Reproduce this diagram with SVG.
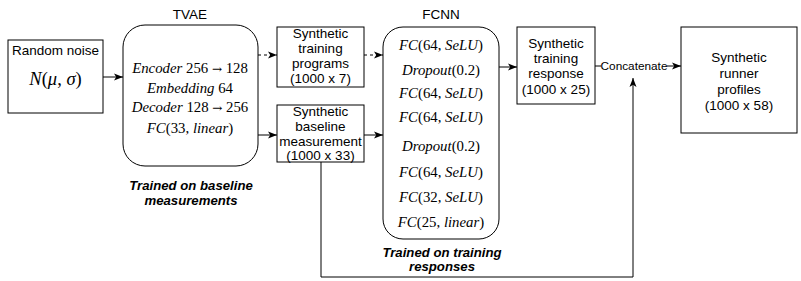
<svg xmlns="http://www.w3.org/2000/svg" width="801" height="281" viewBox="0 0 801 281">
<defs>
<marker id="arr" markerWidth="10" markerHeight="8" refX="9" refY="4" orient="auto" markerUnits="userSpaceOnUse">
<path d="M0,0.5 L9,4 L0,7.5 L2.2,4 Z" fill="#000"/>
</marker>
</defs>
<style>
.box{fill:#fff;stroke:#000;stroke-width:1}
.lbl{font-family:"Liberation Sans",Arial,sans-serif;font-size:13.5px;fill:#000;text-anchor:middle}
.note{font-family:"Liberation Sans",Arial,sans-serif;font-size:13.2px;font-weight:bold;font-style:italic;fill:#000;text-anchor:middle}
.math{font-family:"Liberation Serif","Times New Roman",serif;font-size:14.8px;fill:#000;text-anchor:middle}
.i{font-style:italic}
.ar{font-family:"DejaVu Serif",serif;font-size:12px}
.c{fill:none;stroke:#000;stroke-width:1}
.d{stroke-dasharray:3,3}
</style>
<rect width="801" height="281" fill="#fff"/>

<g id="connectors">
<path class="c" d="M103,77 H123" marker-end="url(#arr)"/>
<path class="c d" d="M258,55 H277" marker-end="url(#arr)"/>
<path class="c" d="M258,135 H277" marker-end="url(#arr)"/>
<path class="c d" d="M364,55 H383" marker-end="url(#arr)"/>
<path class="c" d="M364,135 H383" marker-end="url(#arr)"/>
<path class="c" d="M499,67 H517" marker-end="url(#arr)"/>
<path class="c" d="M595,66 H601"/>
<path class="c" d="M667,66 H681" marker-end="url(#arr)"/>
<path class="c" d="M321,162 V277 H633 V78" marker-end="url(#arr)"/>
<text x="634" y="70" class="lbl" style="font-size:11.8px">Concatenate</text>
</g>

<g id="random-noise">
<rect class="box" x="8" y="40" width="95" height="73"/>
<text x="55.5" y="55" class="lbl">Random noise</text>
<text x="55.5" y="85" class="math" style="font-size:18.5px"><tspan class="i">N</tspan>(<tspan class="i">μ</tspan>, <tspan class="i">σ</tspan>)</text>
</g>

<g id="tvae">
<text x="190" y="19" class="lbl">TVAE</text>
<rect class="box" x="123" y="25" width="135" height="141" rx="22" ry="22"/>
<text x="190" y="73" class="math"><tspan class="i">Encoder</tspan> 256 <tspan class="ar">→</tspan> 128</text>
<text x="190" y="93" class="math"><tspan class="i">Embedding</tspan> 64</text>
<text x="190" y="112" class="math"><tspan class="i">Decoder</tspan> 128 <tspan class="ar">→</tspan> 256</text>
<text x="190" y="133" class="math"><tspan class="i">FC</tspan>(33, <tspan class="i">linear</tspan>)</text>
<text x="191" y="190" class="note">Trained on baseline</text>
<text x="191" y="205" class="note">measurements</text>
</g>

<g id="synthetic-training-programs">
<rect class="box" x="277" y="27" width="87" height="60"/>
<text x="320.5" y="38" class="lbl">Synthetic</text>
<text x="320.5" y="53" class="lbl">training</text>
<text x="320.5" y="68" class="lbl">programs</text>
<text x="320.5" y="83" class="lbl">(1000 x 7)</text>
</g>

<g id="synthetic-baseline-measurement">
<rect class="box" x="277" y="105" width="87" height="57"/>
<text x="320.5" y="116" class="lbl">Synthetic</text>
<text x="320.5" y="131" class="lbl">baseline</text>
<text x="320.5" y="146" class="lbl">measurement</text>
<text x="320.5" y="160" class="lbl">(1000 x 33)</text>
</g>

<g id="fcnn">
<text x="441" y="19" class="lbl">FCNN</text>
<rect class="box" x="383" y="27" width="116" height="212" rx="20" ry="20"/>
<text x="441" y="50" class="math"><tspan class="i">FC</tspan>(64, <tspan class="i">SeLU</tspan>)</text>
<text x="441" y="75" class="math"><tspan class="i">Dropout</tspan>(0.2)</text>
<text x="441" y="98" class="math"><tspan class="i">FC</tspan>(64, <tspan class="i">SeLU</tspan>)</text>
<text x="441" y="122" class="math"><tspan class="i">FC</tspan>(64, <tspan class="i">SeLU</tspan>)</text>
<text x="441" y="151" class="math"><tspan class="i">Dropout</tspan>(0.2)</text>
<text x="441" y="177" class="math"><tspan class="i">FC</tspan>(64, <tspan class="i">SeLU</tspan>)</text>
<text x="441" y="202" class="math"><tspan class="i">FC</tspan>(32, <tspan class="i">SeLU</tspan>)</text>
<text x="441" y="227" class="math"><tspan class="i">FC</tspan>(25, <tspan class="i">linear</tspan>)</text>
<text x="442" y="257" class="note">Trained on training</text>
<text x="442" y="271" class="note">responses</text>
</g>

<g id="synthetic-training-response">
<rect class="box" x="517" y="27" width="78" height="77"/>
<text x="556" y="48" class="lbl">Synthetic</text>
<text x="556" y="63" class="lbl">training</text>
<text x="556" y="78" class="lbl">response</text>
<text x="556" y="94" class="lbl">(1000 x 25)</text>
</g>

<g id="synthetic-runner-profiles">
<rect class="box" x="681" y="27" width="116" height="106"/>
<text x="739" y="62" class="lbl">Synthetic</text>
<text x="739" y="78" class="lbl">runner</text>
<text x="739" y="94" class="lbl">profiles</text>
<text x="739" y="110" class="lbl">(1000 x 58)</text>
</g>
</svg>
